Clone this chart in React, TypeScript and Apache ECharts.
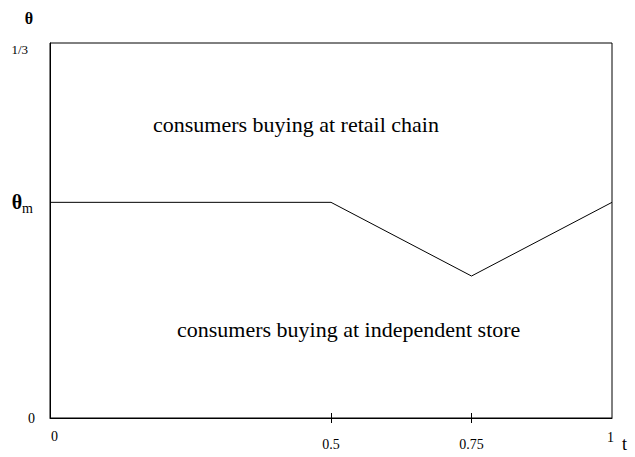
import React, { useEffect, useRef } from "react";
import * as echarts from "echarts";

const thetaM = 0.1917;
const dip = 0.1262;
const tValues = [0, 0.5, 0.75, 1];
const thetaValues = [thetaM, thetaM, dip, thetaM];
const xTickLabels = [0, 0.5, 0.75, 1];
const xTickMarks = [0.5, 0.75];
const yTickValues = [0, thetaM, 1 / 3];
const regionLabels = ["consumers buying at retail chain", "consumers buying at independent store"];

export default function App() {
  const ref = useRef<HTMLDivElement>(null);
  useEffect(() => {
    const chart = echarts.init(ref.current!, null, { renderer: "svg" });
    const serif = "Liberation Serif";
    chart.setOption({
      animation: false,
      textStyle: { fontFamily: serif },
      grid: { left: 50, right: 23, top: 43, bottom: 39, show: true, borderColor: "#000", borderWidth: 1, backgroundColor: "transparent" },
      xAxis: [
        {
          type: "value", min: 0, max: 1,
          name: "t", nameLocation: "end", nameGap: 10,
          nameTextStyle: { fontFamily: serif, fontSize: 18, color: "#000", verticalAlign: "top", padding: [17, 0, 0, 0] },
          axisLine: { show: true, lineStyle: { color: "#000" } },
          splitLine: { show: false },
          axisTick: { show: true, customValues: xTickMarks, length: 5, lineStyle: { color: "#000" } },
          axisLabel: {
            customValues: xTickLabels, margin: 33, verticalAlign: "bottom", fontFamily: serif, fontSize: 14, color: "#000",
            formatter: (v: number) => (v === 0 ? "{a|0}" : v === 1 ? "{b|1}" : "{c|" + v + "}"),
            rich: {
              a: { fontFamily: serif, fontSize: 14, color: "#000", padding: [0, 0, 8, 9] },
              b: { fontFamily: serif, fontSize: 14, color: "#000", padding: [0, 3, 7, 0] },
              c: { fontFamily: serif, fontSize: 14, color: "#000" },
            },
          },
        },
        {
          type: "value", min: 0, max: 1, position: "bottom",
          axisLine: { show: false }, splitLine: { show: false }, axisLabel: { show: false },
          axisTick: { show: true, inside: true, customValues: xTickMarks, length: 5, lineStyle: { color: "#000" } },
        },
      ],
      yAxis: {
        type: "value", min: 0, max: 1 / 3,
        name: "θ", nameLocation: "end", nameGap: 17,
        nameTextStyle: { fontFamily: serif, fontSize: 16, fontWeight: "bold", color: "#000", align: "right", padding: [0, 17, 0, 0] },
        axisLine: { show: true, lineStyle: { color: "#000" } },
        splitLine: { show: false },
        axisTick: { show: false },
        axisLabel: {
          customValues: yTickValues, margin: 15, color: "#000", fontFamily: serif, fontSize: 13,
          formatter: (v: number) => (v === 0 ? "{n|0}" : Math.abs(v - thetaM) < 1e-6 ? "{t|θ}{s|m}" : "{f|1/3}"),
          rich: {
            n: { fontFamily: serif, fontSize: 14, color: "#000" },
            f: { fontFamily: serif, fontSize: 13, color: "#000", padding: [12, 7, 0, 0] },
            t: { fontFamily: serif, fontSize: 20, fontWeight: "bold", color: "#000" },
            s: { fontFamily: serif, fontSize: 14, color: "#000", padding: [12, 2, 0, 0] },
          },
        },
      },
      series: [
        {
          type: "line",
          data: tValues.map((t, i) => [t, thetaValues[i]]),
          symbol: "none",
          lineStyle: { color: "#000", width: 1 },
        },
      ],
      graphic: [
        { type: "text", left: 153, top: 113, style: { text: regionLabels[0], fontFamily: serif, fontSize: 22, fill: "#000" } },
        { type: "text", left: 177, top: 318, style: { text: regionLabels[1], fontFamily: serif, fontSize: 22, fill: "#000" } },
      ],
    });
    return () => chart.dispose();
  }, []);
  return <div ref={ref} style={{ width: 635, height: 457, position: "absolute", left: 0, top: 0, background: "#fff" }} />;
}
